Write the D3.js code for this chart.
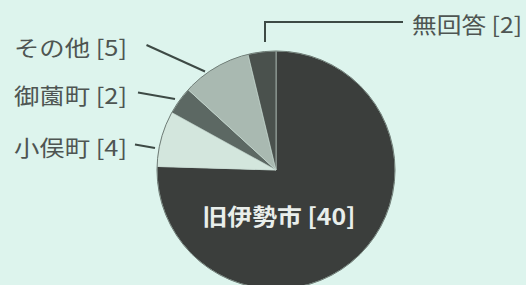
<!DOCTYPE html>
<html>
<head>
<meta charset="utf-8">
<script src="https://cdn.jsdelivr.net/npm/d3@7/dist/d3.min.js"></script>
<style>
html,body{margin:0;padding:0;background:#ddf4ed;}
svg{display:block;}
text{font-family:"Noto Sans CJK JP","Noto Sans",sans-serif;}
</style>
</head>
<body>
<svg id="chart" width="526" height="285"></svg>
<script>
const categories = ["旧伊勢市", "小俣町", "御薗町", "その他", "無回答"];
const values = [40, 4, 2, 5, 2];
const colors = ["#3b3e3c", "#d3e6dd", "#5c6863", "#a9b9b1", "#4a514d"];

const W = 526, H = 285;
const cx = 276, cy = 170, R = 119;

const svg = d3.select("#chart");
const g = svg.append("g").attr("transform", `translate(${cx},${cy})`);

const data = categories.map((c, i) => ({ name: c, value: values[i], color: colors[i] }));
const pie = d3.pie().value(d => d.value).sort(null).startAngle(0).endAngle(2 * Math.PI);
const arc = d3.arc().innerRadius(0).outerRadius(R);
const arcs = pie(data);

g.selectAll("path.slice").data(arcs).enter().append("path")
  .attr("class", "slice")
  .attr("d", arc)
  .attr("fill", d => d.data.color)
  .attr("stroke", "#c9dcd4")
  .attr("stroke-width", 0.6);

g.append("circle").attr("r", R).attr("fill", "none").attr("stroke", "#6f7d77").attr("stroke-width", 1);

const outer = {
  "小俣町": { tx: 127, ty: 146, len: 113, pts: [[135,144.5],[155,148]] },
  "御薗町": { tx: 127, ty: 94, len: 113, pts: [[138,92.5],[175,99]] },
  "その他": { tx: 127, ty: 46, len: 113, pts: [[146.5,45],[205,71.5]] },
  "無回答": { tx: 412, ty: 23, len: 110, anchor: "start", pts: [[265,42],[265,22],[403,22]] }
};

const lab = svg.append("g");
arcs.forEach(a => {
  const o = outer[a.data.name];
  if (!o) return;
  lab.append("path")
    .attr("d", d3.line()(o.pts))
    .attr("fill", "none")
    .attr("stroke", "#3d4a45")
    .attr("stroke-width", 2);
  lab.append("text")
    .attr("x", o.tx).attr("y", o.ty)
    .attr("text-anchor", o.anchor || "end")
    .attr("dominant-baseline", "central")
    .attr("font-size", 22)
    .attr("textLength", o.len)
    .attr("lengthAdjust", "spacingAndGlyphs")
    .attr("fill", "#4e5552")
    .text(`${a.data.name} [${a.data.value}]`);
});

svg.append("text")
  .attr("x", 279).attr("y", 215)
  .attr("text-anchor", "middle")
  .attr("dominant-baseline", "central")
  .attr("font-size", 23)
  .attr("font-weight", 700)
  .attr("textLength", 153)
  .attr("lengthAdjust", "spacingAndGlyphs")
  .attr("fill", "#e9eeeb")
  .text(`${categories[0]} [${values[0]}]`);
</script>
</body>
</html>
